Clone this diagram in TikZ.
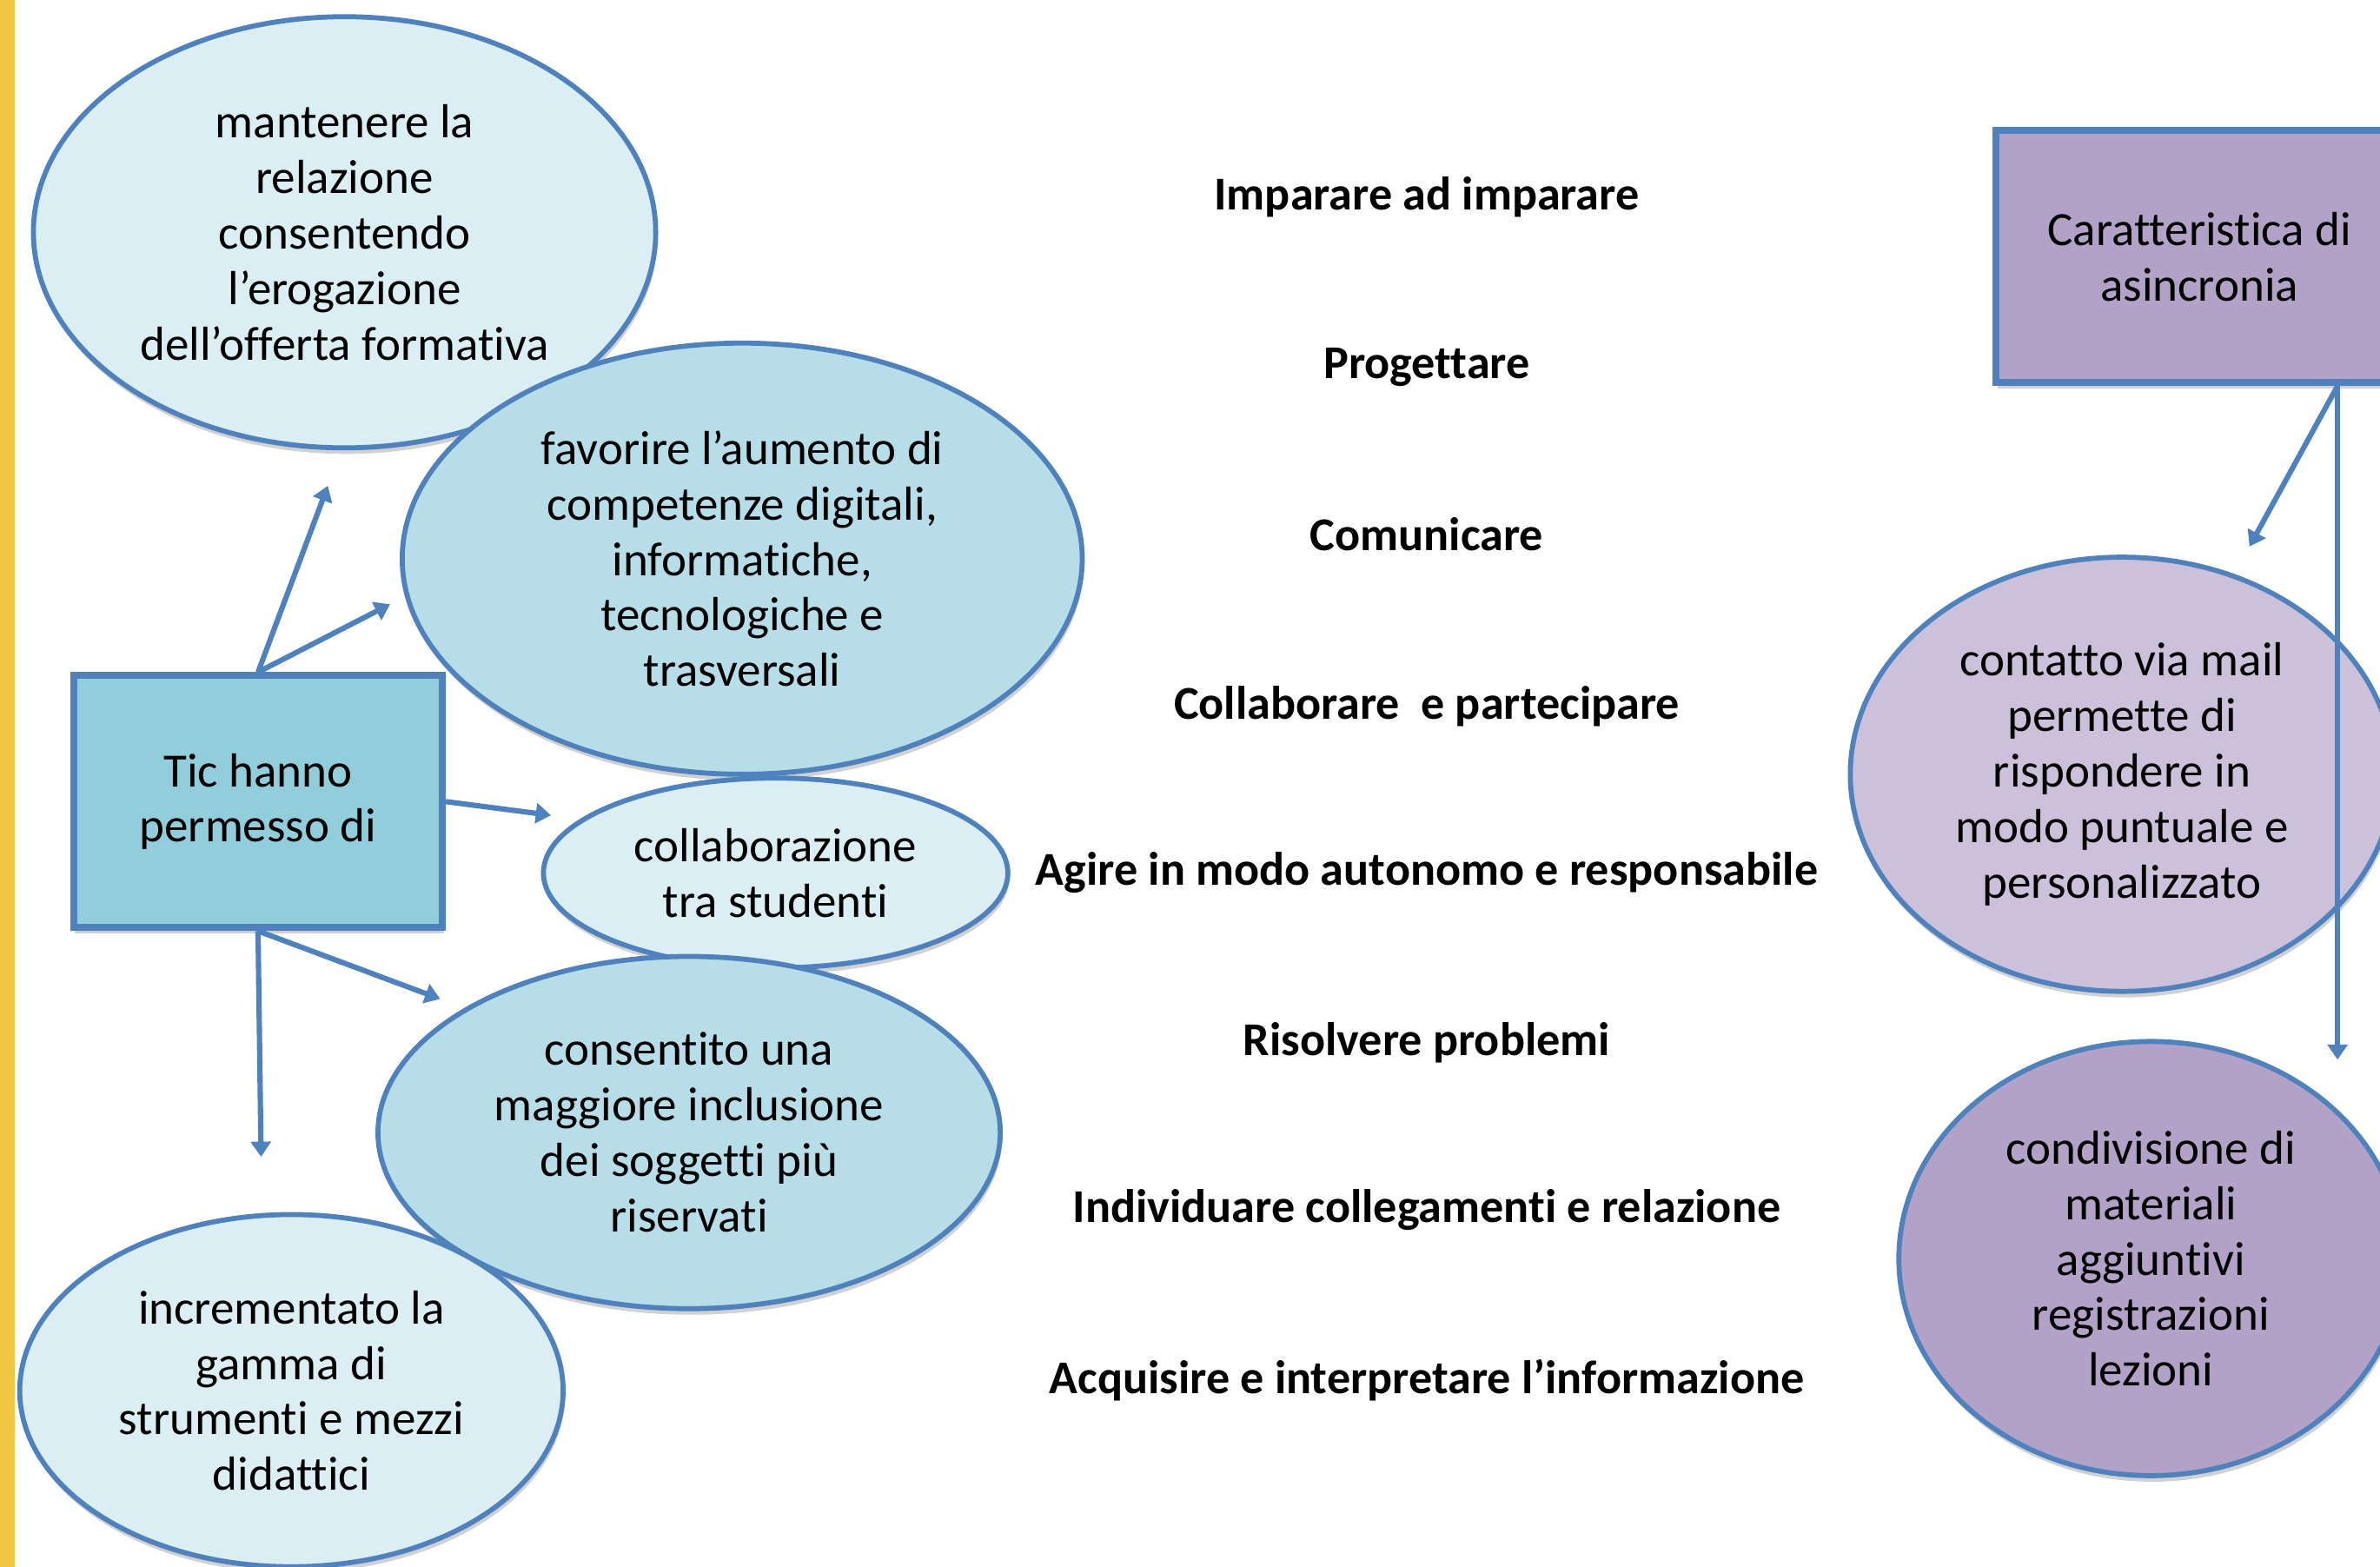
\documentclass[tikz,border=0pt]{standalone}
\usepackage{fontspec}
\setmainfont{Carlito}[Ligatures={NoCommon}]
\usetikzlibrary{shapes.geometric,arrows.meta,shadows}
\definecolor{bord}{HTML}{4F81BD}
\definecolor{lblue}{HTML}{DAEEF3}
\definecolor{mblue}{HTML}{B7DDE8}
\definecolor{dblue}{HTML}{92CDDC}
\definecolor{dpurple}{HTML}{B2A2C7}
\definecolor{lpurple}{HTML}{CCC1DA}
\definecolor{edgeyellow}{RGB}{242,199,68}
\begin{document}
\begin{tikzpicture}[x=1pt,y=-1pt,
  every node/.style={font=\fontsize{31.5}{36.6}\selectfont, align=center, text=black},
  shad/.style={drop shadow={shadow xshift=1pt, shadow yshift=-4pt, opacity=0.18, fill=black}},
  bub/.style={ellipse, draw=bord, line width=3.3pt, inner sep=0pt, shad},
  box/.style={rectangle, draw=bord, line width=4.5pt, inner sep=0pt, shad},
  conn/.style={draw=bord, line width=3.5pt, -{Triangle[width=13pt,length=10pt]}},
  lab/.style={font=\bfseries\fontsize{31}{36.6}\selectfont}
]
\useasboundingbox (0,0) rectangle (1568,1032);
\clip (0,0) rectangle (1568,1032);
\fill[white] (0,0) rectangle (1568,1032);

% left cluster
\node[bub, fill=lblue, minimum width=410pt, minimum height=284pt] (e1) at (227,153)
  {mantenere la\\relazione\\consentendo\\l’erogazione\\dell’offerta formativa};
\node[bub, fill=mblue, minimum width=448pt, minimum height=284pt] (e2) at (489,368)
  {favorire l’aumento di\\competenze digitali,\\informatiche,\\tecnologiche e\\trasversali};
\node[box, fill=dblue, minimum width=243pt, minimum height=166pt] (t) at (170,528)
  {Tic hanno\\permesso di};
\node[bub, fill=lblue, minimum width=306pt, minimum height=125pt] (e3) at (511,575)
  {collaborazione\\tra studenti};
\node[bub, fill=mblue, minimum width=410pt, minimum height=232pt] (e4) at (454,746)
  {consentito una\\maggiore inclusione\\dei soggetti più\\riservati};
\node[bub, fill=lblue, minimum width=358pt, minimum height=232pt] (e5) at (192,916)
  {incrementato la\\gamma di\\strumenti e mezzi\\didattici};

% middle labels
\node[lab] (m1) at (940,130) {Imparare ad imparare};
\node[lab] (m2) at (940,242) {Progettare};
\node[lab] (m3) at (940,352) {Comunicare};
\node[lab] (m4) at (940,465) {Collaborare\ \ e partecipare};
\node[lab] (m5) at (940,575) {Agire in modo autonomo e responsabile};
\node[lab] (m6) at (940,687) {Risolvere problemi};
\node[lab] (m7) at (940,797) {Individuare collegamenti e relazione};
\node[lab] (m8) at (940,909) {Acquisire e interpretare l’informazione};

% right cluster
\node[box, fill=dpurple, minimum width=268pt, minimum height=166pt] (r2) at (1449,169)
  {Caratteristica di\\asincronia};
\node[bub, fill=lpurple, minimum width=358pt, minimum height=286pt] (e6) at (1398,510)
  {contatto via mail\\permette di\\rispondere in\\modo puntuale e\\personalizzato};
\node[bub, fill=dpurple, minimum width=332pt, minimum height=286pt] (e7) at (1417,829)
  {condivisione di\\materiali\\aggiuntivi\\registrazioni\\lezioni};

% connectors left
\coordinate (a1) at (216,320);
\coordinate (a2) at (257,398);
\coordinate (a3) at (363,537);
\coordinate (a4) at (290,658);
\coordinate (a5) at (172,762);
\draw[conn] (t.north) -- (a1);
\draw[conn] (t.north) -- (a2);
\draw[conn] (t.east) -- (a3);
\draw[conn] (t.south) -- (a4);
\draw[conn] (t.south) -- (a5);

% connectors right
\coordinate (c5) at (1482,360);
\coordinate (c6) at (1540,698);
\draw[conn] (r2.south -| c6) -- (c5);
\draw[conn] (r2.south -| c6) -- (c6);

% yellow edge bar
\fill[fill=edgeyellow] (0,0) rectangle (10,1032);
\end{tikzpicture}
\end{document}
